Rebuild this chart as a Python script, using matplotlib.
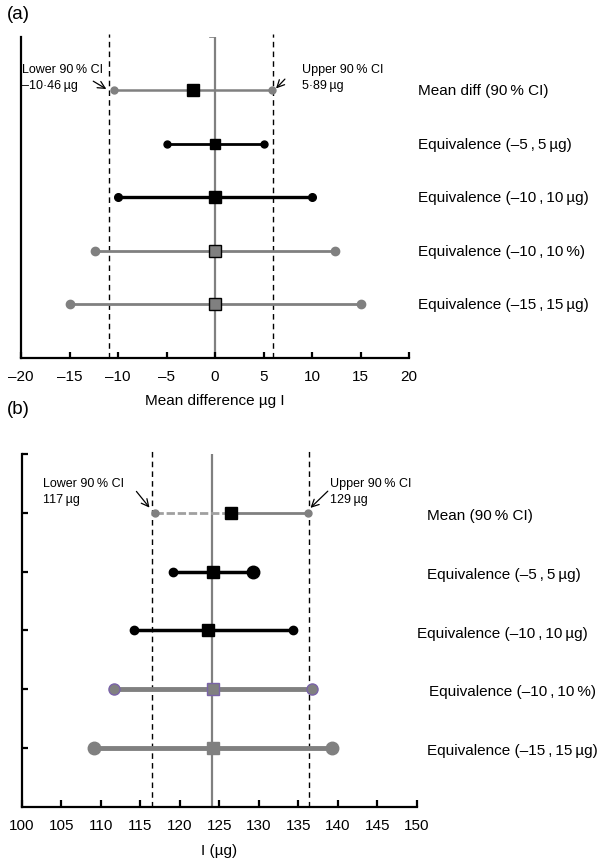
import matplotlib
matplotlib.use("Agg")
import matplotlib.pyplot as plt

plt.rcParams['font.family'] = ['Liberation Sans', 'DejaVu Sans']

T = '\u2009'  # thin space
# ---------------- data ----------------
a_labels = ["Mean diff (90" + T + "% CI)", "Equivalence (\u20135" + T + "," + T + "5" + T + "\u00b5g)",
            "Equivalence (\u201310" + T + "," + T + "10" + T + "\u00b5g)",
            "Equivalence (\u201310" + T + "," + T + "10" + T + "%)", "Equivalence (\u201315" + T + "," + T + "15" + T + "\u00b5g)"]
a_low = [-10.46, -5.0, -10.0, -12.4, -15.0]
a_mid = [-2.3, 0.0, 0.0, 0.0, 0.0]
a_high = [5.89, 5.0, 10.0, 12.4, 15.0]
a_ci_lines = [-10.9, 6.0]
a_ref = 0.0
a_xticks = [-20, -15, -10, -5, 0, 5, 10, 15, 20]

b_labels = ["Mean (90" + T + "% CI)", "Equivalence (\u20135" + T + "," + T + "5" + T + "\u00b5g)",
            "Equivalence (\u201310" + T + "," + T + "10" + T + "\u00b5g)",
            "Equivalence (\u201310" + T + "," + T + "10" + T + "%)", "Equivalence (\u201315" + T + "," + T + "15" + T + "\u00b5g)"]
b_low = [116.9, 119.2, 114.2, 111.7, 109.2]
b_mid = [126.5, 124.2, 123.6, 124.2, 124.2]
b_high = [136.2, 129.3, 134.3, 136.7, 139.3]
b_ci_lines = [116.45, 136.4]
b_ref = 124.05
b_xticks = [100, 105, 110, 115, 120, 125, 130, 135, 140, 145, 150]

GRAY = '#808080'
PURPLE = '#7a63a8'
FS = 11
AFS = 9

fig = plt.figure(figsize=(6.06, 8.62), dpi=100)

def tick_label(v):
    return str(v).replace('-', '\u2013')

# ---------------- panel (a) ----------------
ax = fig.add_axes([0.0347, 0.5839, 0.6403, 0.3720])
ax.set_xlim(-20, 20)
ax.set_ylim(0, 6)
ax.spines['top'].set_visible(False)
ax.spines['right'].set_visible(False)
for s in ['left', 'bottom']:
    ax.spines[s].set_linewidth(1.6)
ax.set_yticks([])
ax.set_xticks(a_xticks)
ax.set_xticklabels([tick_label(v) for v in a_xticks], fontsize=FS)
ax.tick_params(axis='x', direction='in', length=4, width=1.6, pad=8)
ax.set_xlabel("Mean difference \u00b5g I", fontsize=FS, labelpad=7)

ax.plot([a_ref, a_ref], [0, 6], color=GRAY, lw=1.6, zorder=1)
ax.plot([a_ref - 0.5, a_ref], [6, 6], color=GRAY, lw=1.2, zorder=1)
for xv in a_ci_lines:
    ax.plot([xv, xv], [0, 6.05], color='black', lw=1.0, ls=(0, (4, 3)), clip_on=False, zorder=1)

ys = [5, 4, 3, 2, 1]
a_style = [
    dict(c=GRAY, lw=1.8, ms_end=5, sq=8, sqc='black', sqe='black'),
    dict(c='black', lw=2.0, ms_end=5, sq=7, sqc='black', sqe='black'),
    dict(c='black', lw=2.4, ms_end=5.5, sq=9, sqc='black', sqe='black'),
    dict(c=GRAY, lw=2.0, ms_end=6, sq=8, sqc=GRAY, sqe='black'),
    dict(c=GRAY, lw=2.0, ms_end=6, sq=8, sqc=GRAY, sqe='black'),
]
for i, y in enumerate(ys):
    st = a_style[i]
    ax.plot([a_low[i], a_high[i]], [y, y], color=st['c'], lw=st['lw'], zorder=2)
    ax.plot([a_low[i], a_high[i]], [y, y], 'o', color=st['c'], ms=st['ms_end'], zorder=3)
    ax.plot([a_mid[i]], [y], 's', color=st['sqc'], mec=st['sqe'], mew=1.0, ms=st['sq'], zorder=4)
    ax.text(20.9, y, a_labels[i], fontsize=FS, va='center', ha='left', clip_on=False)

ax.text(-19.9, 5.25, "Lower 90" + T + "% CI\n\u201310\u00b746" + T + "\u00b5g", fontsize=AFS, va='center', ha='left', linespacing=1.45)
ax.annotate("", xy=(a_low[0] - 0.5, 5.0), xytext=(-12.8, 5.2),
            arrowprops=dict(arrowstyle='->', lw=0.9, color='black', mutation_scale=13))
ax.text(9.0, 5.25, "Upper 90" + T + "% CI\n5\u00b789" + T + "\u00b5g", fontsize=AFS, va='center', ha='left', linespacing=1.45)
ax.annotate("", xy=(a_high[0] + 0.2, 5.0), xytext=(7.4, 5.25),
            arrowprops=dict(arrowstyle='->', lw=0.9, color='black', mutation_scale=13))

fig.text(0.012, 0.983, "(a)", fontsize=13.5, va='center', ha='left')

# ---------------- panel (b) ----------------
bx = fig.add_axes([0.0358, 0.0630, 0.6518, 0.4092])
bx.set_xlim(100, 150)
bx.set_ylim(0, 6)
bx.spines['top'].set_visible(False)
bx.spines['right'].set_visible(False)
for s in ['left', 'bottom']:
    bx.spines[s].set_linewidth(1.6)
bx.set_yticks([1, 2, 3, 4, 5, 6])
bx.set_yticklabels([])
bx.tick_params(axis='y', direction='in', length=4, width=1.6)
bx.set_xticks(b_xticks)
bx.set_xticklabels([str(v) for v in b_xticks], fontsize=FS)
bx.tick_params(axis='x', direction='in', length=5, width=1.6, pad=8)
bx.set_xlabel("I (\u00b5g)", fontsize=FS, labelpad=8)

bx.plot([b_ref, b_ref], [0, 6], color=GRAY, lw=1.6, zorder=1)
for xv in b_ci_lines:
    bx.plot([xv, xv], [0, 6.05], color='black', lw=1.0, ls=(0, (4, 3)), clip_on=False, zorder=1)

# mean row
y = 5
bx.plot([b_low[0], b_mid[0]], [y, y], color='#a0a0a0', lw=2.0, ls=(0, (3, 1)), zorder=2)
bx.plot([b_mid[0], b_high[0]], [y, y], color=GRAY, lw=2.0, zorder=2)
bx.plot([b_low[0], b_high[0]], [y, y], 'o', color=GRAY, ms=5, zorder=3)
bx.plot([b_mid[0]], [y], 's', color='black', ms=8, zorder=4)
# equivalence rows
b_style = [
    None,
    dict(c='black', lw=2.5, msl=6, msr=9, mec='black', sq=8, sqc='black', sqe='black'),
    dict(c='black', lw=2.5, msl=6, msr=6, mec='black', sq=8, sqc='black', sqe='black'),
    dict(c=GRAY, lw=3.5, msl=8, msr=8, mec=PURPLE, sq=8, sqc=GRAY, sqe=PURPLE),
    dict(c=GRAY, lw=3.5, msl=9, msr=9, mec=GRAY, sq=8, sqc=GRAY, sqe=GRAY),
]
for i in range(1, 5):
    y = ys[i]
    st = b_style[i]
    bx.plot([b_low[i], b_high[i]], [y, y], color=st['c'], lw=st['lw'], zorder=2)
    bx.plot([b_low[i]], [y], 'o', color=st['c'], mec=st['mec'], mew=1.0, ms=st['msl'], zorder=3)
    bx.plot([b_high[i]], [y], 'o', color=st['c'], mec=st['mec'], mew=1.0, ms=st['msr'], zorder=3)
    bx.plot([b_mid[i]], [y], 's', color=st['sqc'], mec=st['sqe'], mew=1.0, ms=st['sq'], zorder=4)

b_label_x = [151.3, 151.3, 150.0, 151.5, 151.3]
for i, y in enumerate(ys):
    bx.text(b_label_x[i], y - 0.04, b_labels[i], fontsize=FS, va='center', ha='left', clip_on=False)

bx.text(102.7, 5.37, "Lower 90" + T + "% CI\n117" + T + "\u00b5g", fontsize=AFS, va='center', ha='left', linespacing=1.45)
bx.annotate("", xy=(b_low[0] - 0.5, 5.05), xytext=(114.3, 5.4),
            arrowprops=dict(arrowstyle='->', lw=0.9, color='black', mutation_scale=13))
bx.text(139.0, 5.37, "Upper 90" + T + "% CI\n129" + T + "\u00b5g", fontsize=AFS, va='center', ha='left', linespacing=1.45)
bx.annotate("", xy=(b_high[0] + 0.1, 5.05), xytext=(139.0, 5.4),
            arrowprops=dict(arrowstyle='->', lw=0.9, color='black', mutation_scale=13))

fig.text(0.012, 0.525, "(b)", fontsize=13.5, va='center', ha='left')

fig.savefig("out.png", dpi=100)
